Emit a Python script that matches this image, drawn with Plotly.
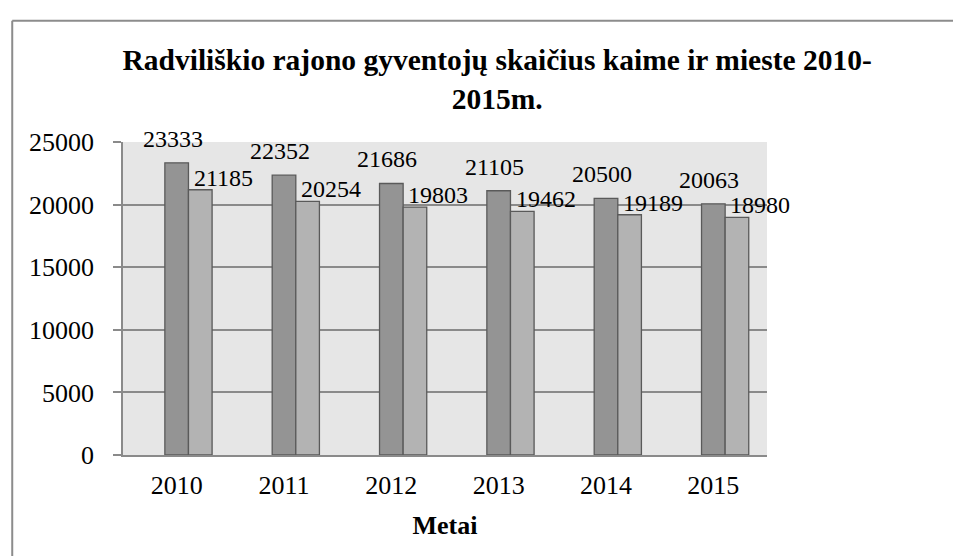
import plotly.graph_objects as go

# data
years = ["2010", "2011", "2012", "2013", "2014", "2015"]
kaime = [23333, 22352, 21686, 21105, 20500, 20063]
mieste = [21185, 20254, 19803, 19462, 19189, 18980]
y_ticks = [0, 5000, 10000, 15000, 20000, 25000]

FONT = "Liberation Serif"
GRID = "#8a8a8a"
BAR_W = 0.22

fig = go.Figure()

fig.add_trace(go.Bar(
    x=years, y=kaime, name="Kaime",
    width=BAR_W, offset=-BAR_W / 2,
    marker=dict(color="#949494", line=dict(color="#5a5a5a", width=1.3)),
))
fig.add_trace(go.Bar(
    x=years, y=mieste, name="Mieste",
    width=BAR_W, offset=BAR_W / 2,
    marker=dict(color="#b3b3b3", line=dict(color="#5a5a5a", width=1.3)),
))

# value labels, placed the way the original chart has them
# (category index for x, since "2010" etc. would be read as an index)
for i, v in enumerate(kaime):
    fig.add_annotation(x=i, y=v, text=str(v), showarrow=False,
                       xanchor="center", yanchor="bottom", xshift=-4, yshift=9,
                       font=dict(family=FONT, size=24, color="black"))
for i, v in enumerate(mieste):
    fig.add_annotation(x=i, y=v, text=str(v), showarrow=False,
                       xanchor="center", yanchor="bottom", xshift=47, yshift=-3,
                       font=dict(family=FONT, size=24, color="black"))

# outer chart frame (left and top edges visible in the crop)
fig.add_shape(type="line", xref="paper", yref="paper",
              x0=-0.172, x1=-0.172, y0=-0.4, y1=1.387,
              line=dict(color="#8c8c8c", width=2))
fig.add_shape(type="line", xref="paper", yref="paper",
              x0=-0.172, x1=1.5, y0=1.387, y1=1.387,
              line=dict(color="#8c8c8c", width=2))

fig.update_layout(
    width=961, height=556,
    margin=dict(l=115, r=202, t=134, b=109),
    paper_bgcolor="white",
    plot_bgcolor="#e6e6e6",
    barmode="overlay",
    showlegend=False,
    font=dict(family=FONT, color="black"),
    title=dict(
        text="<b>Radviliškio rajono gyventojų skaičius kaime ir mieste 2010-<br>2015m.</b>",
        x=0.581, xref="paper", xanchor="center",
        y=0.888, yref="container", yanchor="top",
        font=dict(family=FONT, size=29.5, color="black"),
    ),
    xaxis=dict(
        type="category", range=[-0.5, 5.5],
        showline=True, linecolor=GRID, linewidth=1.5,
        showgrid=False, ticks="",
        tickfont=dict(family=FONT, size=26),
        ticklabelstandoff=6,
        title=dict(text="<b>Metai</b>", font=dict(family=FONT, size=26), standoff=17),
    ),
    yaxis=dict(
        range=[0, 25000], tickvals=y_ticks,
        ticktext=[str(t) for t in y_ticks],
        showline=True, linecolor=GRID, linewidth=1.5,
        showgrid=True, gridcolor=GRID, gridwidth=1.5,
        ticks="outside", ticklen=8, tickcolor=GRID, tickwidth=1.5,
        tickfont=dict(family=FONT, size=26),
        ticklabelstandoff=14,
        zeroline=False,
    ),
)

fig.write_html("out.html")
